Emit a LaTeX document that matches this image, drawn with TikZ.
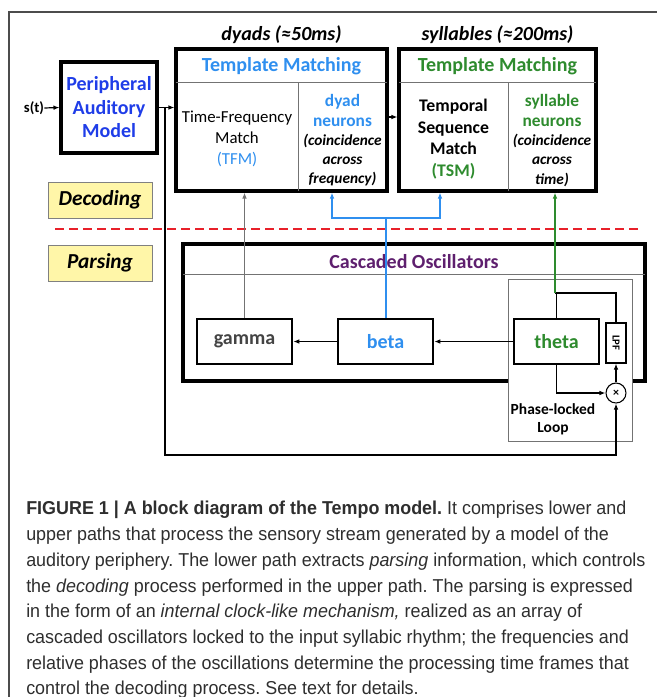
\documentclass[tikz,border=0pt]{standalone}
\usepackage{fontspec}
\setmainfont{Carlito}
\newfontfamily\capfont[FakeStretch=0.96]{Liberation Sans}
\usetikzlibrary{arrows.meta}
\definecolor{pblue}{HTML}{1F3DE8}
\definecolor{lblue}{HTML}{2F8FEF}
\definecolor{dgreen}{HTML}{2E8B2E}
\definecolor{purp}{HTML}{5E1F6E}
\definecolor{dred}{HTML}{E8202A}
\definecolor{yel}{HTML}{FFF6A8}
\definecolor{capc}{HTML}{2E2E2E}
\definecolor{gtext}{HTML}{444444}
\newcommand\myfs[2]{\fontsize{#1}{#2}\selectfont}
\frenchspacing
\begin{document}
\begin{tikzpicture}[x=0.75pt,y=-0.75pt,
  bigbox/.style={draw, line width=2.3pt, minimum width=#1, inner sep=0pt},
  osc/.style={draw, line width=1.9pt, minimum height=33.75pt, inner sep=0pt, fill=white,
     font=\bfseries\myfs{15pt}{18pt}},
  lbl/.style={inner sep=0pt, align=center},
  tag/.style={draw=black!50, line width=0.7pt, fill=yel, minimum width=78pt, minimum height=27pt,
     inner sep=0pt, font=\bfseries\itshape\myfs{16pt}{19pt}},
  conn/.style={line width=0.9pt, -{Latex[length=4.5pt,width=3.5pt]}},
  plain/.style={line width=0.9pt},
  divider/.style={line width=0.7pt, black!55}]
\useasboundingbox (0,0) rectangle (657,697);
% outer frame
\draw[line width=1.1pt, black!70] (9,697) -- (9,12) -- (657,12);

% top labels
\node[lbl, font=\bfseries\itshape\myfs{15pt}{18pt}] (dyadlbl) at (281.5,35) {dyads (≈50ms)};
\node[lbl, font=\bfseries\itshape\myfs{15pt}{18pt}] (syllbl) at (497.5,35) {syllables (≈200ms)};

% input and peripheral model
\node[lbl, font=\bfseries\myfs{11pt}{13pt}] (st) at (34,108) {s(t)};
\node[bigbox=72pt, minimum height=68.25pt, text=pblue, align=center,
      font=\bfseries\myfs{15pt}{17.6pt}] (pam) at (109,107.5) {Peripheral\\Auditory\\Model};

% dyad template matching box
\node[bigbox=158.25pt, minimum height=106.5pt] (dyadbox) at (281.5,120) {};
\draw[divider] (176,82) -- (387,82);
\draw[divider] (298,82) -- (298,191);
\node[lbl, text=lblue, font=\bfseries\myfs{15pt}{18pt}] (tm1) at (281.5,66) {Template Matching};
\node[lbl, font=\myfs{12.6pt}{15.75pt}] (tfm) at (237,139) {Time-Frequency\\Match\\\textcolor{lblue}{(TFM)}};
\node[lbl, text=lblue, font=\bfseries\myfs{13pt}{15pt}] (dn) at (342.5,110) {dyad\\neurons};
\node[lbl, font=\bfseries\itshape\myfs{11.5pt}{14.6pt}] (dc) at (342.5,160) {(coincidence\\across\\frequency)};

% syllable template matching box
\node[bigbox=147.75pt, minimum height=106.5pt] (sylbox) at (497.5,120) {};
\draw[divider] (399,82) -- (596,82);
\draw[divider] (508,82) -- (508,191);
\node[lbl, text=dgreen, font=\bfseries\myfs{15pt}{18pt}] (tm2) at (497.5,66) {Template Matching};
\node[lbl, font=\bfseries\myfs{13.3pt}{16.3pt}] (tsm) at (453.5,139) {Temporal\\Sequence\\Match\\\textcolor{dgreen}{(TSM)}};
\node[lbl, text=dgreen, font=\bfseries\myfs{13pt}{15pt}] (sn) at (552,110.5) {syllable\\neurons};
\node[lbl, font=\bfseries\itshape\myfs{11.5pt}{14.6pt}] (sc) at (552,160) {(coincidence\\across\\time)};

% decoding / parsing tags and separator
\node[tag] (dec) at (100,200) {Decoding};
\node[tag] (par) at (100,263) {Parsing};
\draw[dred, line width=1.6pt, dash pattern=on 7pt off 3.5pt] (55,229) -- (640,229);

% cascaded oscillators
\node[draw, line width=2.6pt, minimum width=346.5pt, minimum height=102.75pt, inner sep=0pt] (casc) at (414,312.5) {};
\draw[divider] (183,274) -- (645,274);
\node[lbl, text=purp, font=\bfseries\myfs{15pt}{18pt}] (casclbl) at (414,262) {Cascaded Oscillators};

% phase-locked loop
\node[draw=black!55, line width=0.7pt, fill=white, minimum width=93pt, minimum height=121.5pt, inner sep=0pt] (pll) at (570,360) {};
\node[lbl, font=\bfseries\myfs{11.6pt}{13.5pt}] (plllbl) at (553,419) {Phase-locked\\Loop};

% oscillators
\node[osc, minimum width=71.25pt, text=gtext] (gamma) at (244.5,341.5) {gamma};
\node[osc, minimum width=71.25pt, text=lblue] (beta) at (385.5,341.5) {beta};
\node[osc, minimum width=63.75pt, text=dgreen] (theta) at (556.5,341.5) {theta};
\node[draw, line width=0.9pt, minimum width=15pt, minimum height=30pt, inner sep=0pt] (lpf) at (616,343) {};
\node[lbl, rotate=-90, font=\bfseries\myfs{8pt}{9pt}] (lpflbl) at (lpf.center) {LPF};
\node[draw, circle, line width=0.8pt, minimum size=15pt, inner sep=0pt, fill=white,
      font=\bfseries\myfs{9pt}{10pt}] (mult) at (616,393) {×};

% connectors
\draw[conn] (st.east) -- (pam.west);
\draw[conn] (pam.east) -- (pam.east -| dyadbox.west);
\coordinate (bp) at (165,107.5);
\coordinate (bb) at (165,455);
\draw[conn] (bp) -- (bb) -| (mult.south);
\coordinate (dq) at (387,117);
\draw[conn] (dq) -- (dq -| sylbox.west);

\draw[conn, black!55, line width=1.2pt] (gamma.north) -- (gamma.north |- dyadbox.south);
\coordinate (bj) at (385.5,218);
\coordinate (bl) at (332,218);
\coordinate (br) at (440,218);
\draw[line width=1.5pt, lblue] (beta.north) -- (bj);
\draw[conn, line width=1.5pt, lblue] (bj) -- (bl) -- (bl |- dyadbox.south);
\draw[conn, line width=1.5pt, lblue] (bj) -- (br) -- (br |- sylbox.south);

\coordinate (tt) at (555,293);
\draw[plain] (tt -| theta.north) -- (theta.north);
\draw[plain] (tt) -- (tt -| lpf.north) -- (lpf.north);
\draw[conn, dgreen, line width=1.2pt] (tt) -- (tt |- sylbox.south);
\draw[conn] (theta.south) |- (mult.west);
\draw[conn] (mult.north) -- (lpf.south);
\draw[conn] (theta.west) -- (beta.east);
\draw[conn] (beta.west) -- (gamma.east);

% caption
\node[anchor=north west, inner sep=0pt, align=left, text=capc,
      font=\capfont\myfs{14pt}{19.3pt}] (cap) at (26,501) {%
{\bfseries FIGURE 1 | A block diagram of the Tempo model.} It comprises lower and\\
upper paths that process the sensory stream generated by a model of the\\
auditory periphery. The lower path extracts \textit{parsing} information, which controls\\
the \textit{decoding} process performed in the upper path. The parsing is expressed\\
in the form of an \textit{internal clock-like mechanism,} realized as an array of\\
cascaded oscillators locked to the input syllabic rhythm; the frequencies and\\
relative phases of the oscillations determine the processing time frames that\\
control the decoding process. See text for details.};
\end{tikzpicture}
\end{document}
